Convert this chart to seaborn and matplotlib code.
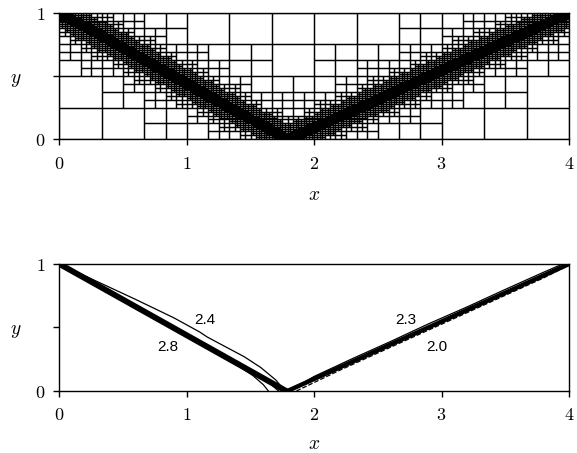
import numpy as np
import matplotlib
matplotlib.use('Agg')
import matplotlib.pyplot as plt
from matplotlib.collections import LineCollection
import seaborn as sns

# ---- data ----
# kinked front that the top-panel mesh is refined around
iface_x = [0.0, 1.79, 4.0]
iface_y = [1.0, 0.0, 1.0]

# mesh: base grid 12 x 4, refinement factor per level
base_nx, base_ny = 12, 4
refine_k = [0.8, 1.0, 1.4, 2.0, 1.5]

# bottom panel fronts
left_thick_x = [0.0, 1.78]
left_thick_y = [1.0, 0.0]
left_24_x = [0.0, 0.3, 0.6, 0.9, 1.1, 1.16, 1.3, 1.45, 1.58, 1.7, 1.77]
left_24_y = [1.0, 0.86, 0.72, 0.575, 0.465, 0.425, 0.35, 0.27, 0.185, 0.085, 0.0]
left_b_x = [0.0, 0.5, 1.0, 1.4, 1.52, 1.6, 1.64]
left_b_y = [1.0, 0.715, 0.43, 0.2, 0.12, 0.05, 0.0]
left_c_x = [0.0, 0.8, 1.5, 1.65, 1.72]
left_c_y = [1.0, 0.548, 0.15, 0.06, 0.0]

right_thick_x = [1.79, 4.0]
right_thick_y = [0.0, 1.0]
right_23_x = [1.80, 2.0, 2.3, 2.6, 2.9, 3.2, 3.5, 3.8, 3.95]
right_23_y = [0.0, 0.115, 0.255, 0.39, 0.53, 0.662, 0.80, 0.935, 1.0]
right_20_x = [1.86, 2.2, 2.6, 3.0, 3.4, 3.8, 4.0]
right_20_y = [0.0, 0.163, 0.345, 0.526, 0.708, 0.89, 0.99]

front_labels = ['2.4', '2.8', '2.3', '2.0']
label_x = [1.14, 0.85, 2.72, 2.96]
label_y = [0.56, 0.35, 0.56, 0.35]

xticks = [0, 1, 2, 3, 4]
yticks = [0, 0.5, 1]
ytick_labels = ['0', '', '1']

# ---- style ----
sns.set_theme(style='ticks')
plt.rcParams['mathtext.fontset'] = 'cm'
plt.rcParams['font.family'] = ['DejaVu Serif']

fig = plt.figure(figsize=(5.77, 4.53), dpi=100)
ax1 = fig.add_axes([0.1031, 0.6925, 0.8830, 0.2797])
ax2 = fig.add_axes([0.1031, 0.1369, 0.8830, 0.2803])

# ---- top panel: adaptive mesh ----
px = np.concatenate([np.linspace(iface_x[i], iface_x[i + 1], 3000) for i in range(len(iface_x) - 1)])
py = np.concatenate([np.linspace(iface_y[i], iface_y[i + 1], 3000) for i in range(len(iface_y) - 1)])


def rect_dist(x0, x1, y0, y1):
    dx = np.maximum(np.maximum(x0 - px, px - x1), 0)
    dy = np.maximum(np.maximum(y0 - py, py - y1), 0)
    return np.hypot(dx, dy).min()


w0 = 4.0 / base_nx
h0 = 1.0 / base_ny
stack = [(i * w0, (i + 1) * w0, j * h0, (j + 1) * h0, 0)
         for i in range(base_nx) for j in range(base_ny)]
cells = []
while stack:
    x0, x1, y0, y1, lev = stack.pop()
    if lev < len(refine_k) and rect_dist(x0, x1, y0, y1) < refine_k[lev] * (x1 - x0):
        xm, ym = (x0 + x1) / 2, (y0 + y1) / 2
        stack += [(x0, xm, y0, ym, lev + 1), (xm, x1, y0, ym, lev + 1),
                  (x0, xm, ym, y1, lev + 1), (xm, x1, ym, y1, lev + 1)]
    else:
        cells.append((x0, x1, y0, y1))

segs = []
for x0, x1, y0, y1 in cells:
    segs += [[(x0, y0), (x1, y0)], [(x0, y1), (x1, y1)],
             [(x0, y0), (x0, y1)], [(x1, y0), (x1, y1)]]
ax1.add_collection(LineCollection(segs, colors='black', linewidths=0.9))

# ---- bottom panel: fronts ----
sns.lineplot(x=left_thick_x, y=left_thick_y, sort=False, color='black', lw=4.2, ax=ax2)
sns.lineplot(x=left_24_x, y=left_24_y, sort=False, color='black', lw=0.9, ax=ax2)
sns.lineplot(x=left_b_x, y=left_b_y, sort=False, color='black', lw=0.9, ax=ax2)
sns.lineplot(x=left_c_x, y=left_c_y, sort=False, color='black', lw=0.9, ax=ax2)
sns.lineplot(x=right_thick_x, y=right_thick_y, sort=False, color='black', lw=3.2, ax=ax2)
sns.lineplot(x=right_23_x, y=right_23_y, sort=False, color='black', lw=0.9, ax=ax2)
sns.lineplot(x=right_20_x, y=right_20_y, sort=False, color='black', lw=0.9,
             linestyle='--', ax=ax2)
for t, lx, ly in zip(front_labels, label_x, label_y):
    ax2.text(lx, ly, t, ha='center', va='center', fontsize=11,
             family='Liberation Sans', color='black')

for ax in (ax1, ax2):
    ax.set_xlim(0, 4)
    ax.set_ylim(0, 1)
    ax.set_xticks(xticks)
    ax.set_xticklabels(['$%d$' % v for v in xticks])
    ax.set_yticks(yticks)
    ax.set_yticklabels(['$%s$' % s if s else '' for s in ytick_labels])
    ax.tick_params(direction='out', length=4, width=1, color='black',
                   labelsize=13, labelcolor='black')
    ax.tick_params(axis='x', pad=7)
    ax.tick_params(axis='y', pad=6)
    for sp in ax.spines.values():
        sp.set_visible(True)
        sp.set_color('black')
        sp.set_linewidth(1.0)
    ax.set_xlabel('$x$', fontsize=14, color='black')
    ax.set_ylabel('$y$', fontsize=14, color='black', rotation=0)
    ax.yaxis.set_label_coords(-0.085, 0.40)
    ax.grid(False)
    ax.set_facecolor('white')
ax1.xaxis.set_label_coords(0.5, -0.365)
ax2.xaxis.set_label_coords(0.5, -0.345)

fig.savefig('out.png', dpi=100, facecolor='white')
